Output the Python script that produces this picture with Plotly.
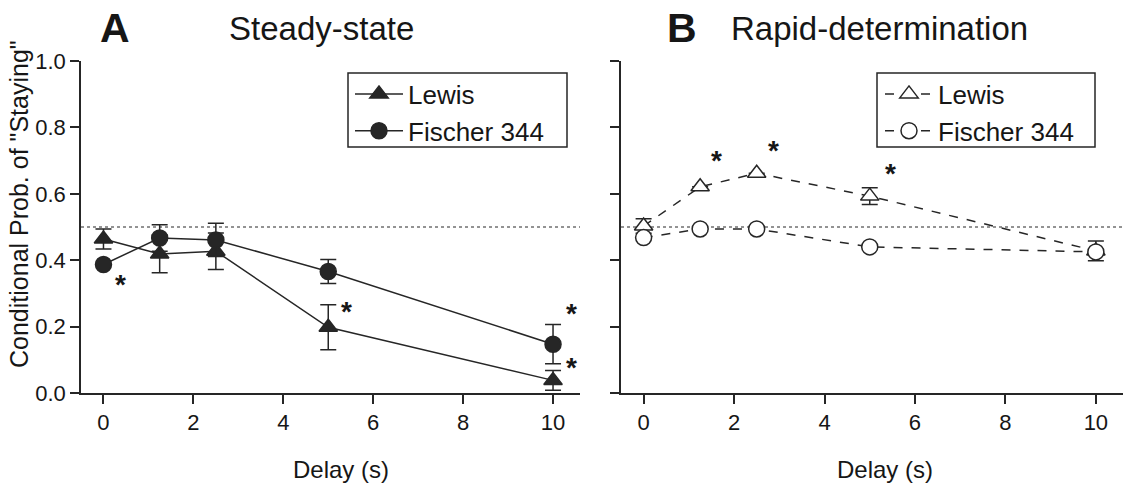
import plotly.graph_objects as go

delays = [0, 1.25, 2.5, 5, 10]

# Panel A: Steady-state
ss_lewis = [0.464, 0.419, 0.427, 0.198, 0.038]
ss_lewis_err = [0.030, 0.057, 0.055, 0.068, 0.030]
ss_f344 = [0.387, 0.467, 0.461, 0.366, 0.147]
ss_f344_err = [None, 0.040, 0.050, 0.036, 0.059]   # None: hidden by marker

# Panel B: Rapid-determination
rd_lewis = [0.503, 0.621, 0.662, 0.593, 0.428]
rd_lewis_err = [0.022, None, None, 0.025, 0.030]
rd_f344 = [0.468, 0.494, 0.494, 0.440, 0.425]
rd_f344_err = [None, None, None, None, None]

x_ticks = [0, 2, 4, 6, 8, 10]
y_ticks = [0.0, 0.2, 0.4, 0.6, 0.8, 1.0]

# significance markers (x, y) per panel
stars_a_x = [0.37, 5.41, 10.41, 10.41]
stars_a_y = [0.331, 0.250, 0.242, 0.081]
stars_b_x = [1.62, 2.87, 5.45]
stars_b_y = [0.702, 0.732, 0.665]

INK = "#262626"
TXT = "#161616"
FONT = "Liberation Sans, Arial, sans-serif"

# layout geometry (pixels in the 1128x489 window)
W, H = 1128, 489
L, R, T, B = 81, 5, 61, 96
PW, PH = W - L - R, H - T - B


def px(x):
    return (x - L) / PW


def py(y):
    return (H - B - y) / PH


fig = go.Figure()


def add_series(x, y, err, name, xa, ya, symbol, filled, dash, legend, size):
    fig.add_trace(go.Scatter(
        x=x, y=y, name=name, xaxis=xa, yaxis=ya, mode="lines+markers",
        line=dict(color=INK, width=1.5, dash=dash),
        marker=dict(symbol=symbol, size=size,
                    color=INK if filled else "white",
                    line=dict(color=INK, width=1.5)),
        error_y=dict(type="data", array=err, visible=True, color=INK,
                     thickness=1.5, width=8),
        cliponaxis=False, legend=legend,
    ))


add_series(delays, ss_lewis, ss_lewis_err, "Lewis", "x", "y",
           "triangle-up", True, "solid", "legend", 16)
add_series(delays, ss_f344, ss_f344_err, "Fischer 344", "x", "y",
           "circle", True, "solid", "legend", 16)
add_series(delays, rd_lewis, rd_lewis_err, "Lewis", "x2", "y2",
           "triangle-up", False, "dash", "legend2", 16)
add_series(delays, rd_f344, rd_f344_err, "Fischer 344", "x2", "y2",
           "circle", False, "dash", "legend2", 16)

# chance line
for xr, yr in (("x", "y"), ("x2", "y2")):
    fig.add_shape(type="line", xref=f"{xr} domain", yref=yr, x0=0, x1=1,
                  y0=0.5, y1=0.5, line=dict(color=INK, width=1, dash="dot"),
                  layer="below")

# legend boxes
for x0, x1 in ((348, 567), (877, 1095)):
    fig.add_shape(type="rect", xref="paper", yref="paper",
                  x0=px(x0), x1=px(x1), y0=py(147), y1=py(73),
                  line=dict(color=INK, width=1.5), fillcolor="rgba(0,0,0,0)")

for sx, sy in zip(stars_a_x, stars_a_y):
    fig.add_annotation(x=sx, y=sy, xref="x", yref="y", text="<b>*</b>", yshift=-1,
                       showarrow=False, font=dict(size=28, color=TXT, family=FONT))
for sx, sy in zip(stars_b_x, stars_b_y):
    fig.add_annotation(x=sx, y=sy, xref="x2", yref="y2", text="<b>*</b>", yshift=-1,
                       showarrow=False, font=dict(size=28, color=TXT, family=FONT))


def label(x, y, text, size, angle=0):
    fig.add_annotation(x=px(x), y=py(y), xref="paper", yref="paper",
                       xanchor="center", yanchor="middle", text=text,
                       textangle=angle, showarrow=False,
                       font=dict(size=size, color=TXT, family=FONT))


# panel titles
label(115, 28, "<b>A</b>", 41)
label(321, 29, "Steady-state", 33)
label(682, 28, "<b>B</b>", 41)
label(879, 29, "Rapid-determination", 33)

# axis titles
label(19, 204, 'Conditional Prob. of "Staying"', 25, -90)
label(341, 469, "Delay (s)", 24)
label(885, 469, "Delay (s)", 24)

axis_common = dict(showline=True, linecolor=INK, linewidth=1.5, ticks="outside",
                   ticklen=9, tickwidth=1.5, tickcolor=INK, showgrid=False,
                   zeroline=False, automargin=False,
                   tickfont=dict(size=22, color=TXT, family=FONT))

legend_common = dict(xanchor="left", yanchor="top", borderwidth=0,
                     bgcolor="rgba(0,0,0,0)", itemwidth=48,
                     font=dict(size=26, color=TXT, family=FONT))

fig.update_layout(
    width=W, height=H, margin=dict(l=L, r=R, t=T, b=B),
    paper_bgcolor="white", plot_bgcolor="white", showlegend=True,
    xaxis=dict(domain=[0, 499 / PW], range=[-0.5, 10.6],
               tickvals=x_ticks, anchor="y", **axis_common),
    yaxis=dict(domain=[0, 1], range=[0, 1],
               tickvals=y_ticks, tickformat=".1f", anchor="x", **axis_common),
    xaxis2=dict(domain=[540 / PW, 1], range=[-0.5, 10.6],
                tickvals=x_ticks, anchor="y2", **axis_common),
    yaxis2=dict(domain=[0, 1], range=[0, 1],
                tickvals=y_ticks, tickformat=".1f", anchor="x2",
                showticklabels=False, **axis_common),
    legend=dict(x=px(350), y=py(70.5), **legend_common),
    legend2=dict(x=px(880), y=py(70.5), **legend_common),
)

fig.write_html("out.html", config={"displayModeBar": False},
               post_script="document.body.style.margin='0';"
                           "document.body.style.overflow='hidden';")
